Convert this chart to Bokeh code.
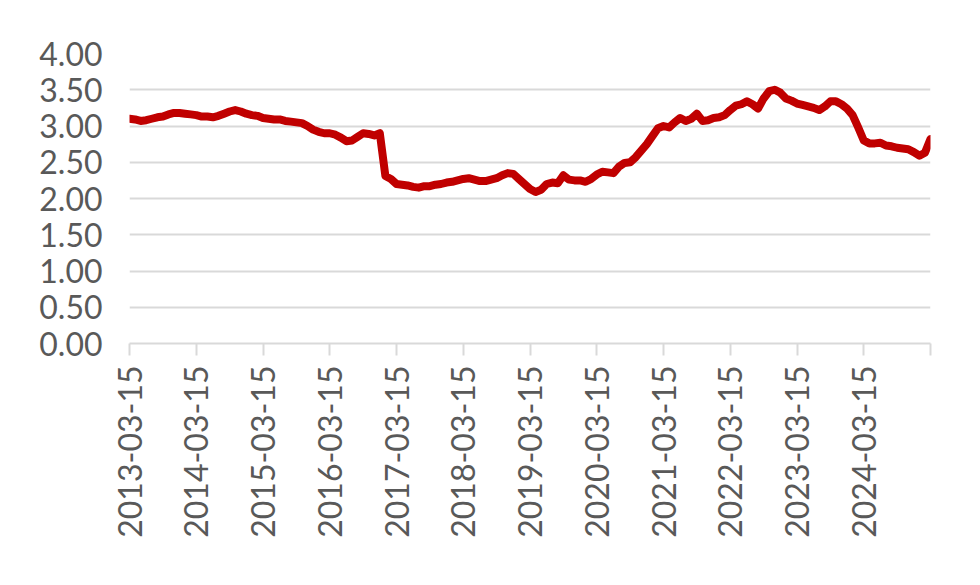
import math
from bokeh.plotting import figure
from bokeh.models import Range1d, FixedTicker, ColumnDataSource
from bokeh.embed import file_html
from bokeh.resources import INLINE

# Monthly observations, 2013-03 .. 2025-03
start_year, start_month = 2013, 3
values = [
    3.10, 3.09, 3.07, 3.08, 3.10, 3.12, 3.13, 3.16, 3.18, 3.18, 3.17, 3.16,  # 2013-03..2014-02
    3.15, 3.13, 3.13, 3.12, 3.14, 3.17, 3.20, 3.22, 3.20, 3.17, 3.15, 3.14,  # 2014-03..2015-02
    3.11, 3.10, 3.09, 3.09, 3.07, 3.06, 3.05, 3.04, 3.00, 2.95, 2.92, 2.90,  # 2015-03..2016-02
    2.90, 2.88, 2.84, 2.79, 2.80, 2.85, 2.90, 2.89, 2.87, 2.90, 2.31, 2.27,  # 2016-03..2017-02
    2.20, 2.19, 2.18, 2.16, 2.15, 2.17, 2.17, 2.19, 2.20, 2.22, 2.23, 2.25,  # 2017-03..2018-02
    2.27, 2.28, 2.26, 2.24, 2.24, 2.26, 2.28, 2.32, 2.35, 2.34, 2.27, 2.20,  # 2018-03..2019-02
    2.13, 2.09, 2.12, 2.20, 2.22, 2.21, 2.32, 2.26, 2.25, 2.25, 2.23, 2.27,  # 2019-03..2020-02
    2.33, 2.37, 2.36, 2.35, 2.44, 2.49, 2.50, 2.57, 2.66, 2.75, 2.86, 2.97,  # 2020-03..2021-02
    3.00, 2.98, 3.05, 3.11, 3.07, 3.10, 3.17, 3.07, 3.08, 3.11, 3.12, 3.15,  # 2021-03..2022-02
    3.22, 3.28, 3.30, 3.34, 3.30, 3.24, 3.38, 3.48, 3.50, 3.46, 3.38, 3.35,  # 2022-03..2023-02
    3.31, 3.29, 3.27, 3.25, 3.22, 3.27, 3.34, 3.34, 3.30, 3.24, 3.15, 2.98,  # 2023-03..2024-02
    2.80, 2.76, 2.76, 2.77, 2.73, 2.72, 2.70, 2.69, 2.68, 2.64, 2.59, 2.63,  # 2024-03..2025-02
    2.82,                                                                    # 2025-03
]
tick_labels = ["2013-03-15", "2014-03-15", "2015-03-15", "2016-03-15", "2017-03-15",
               "2018-03-15", "2019-03-15", "2020-03-15", "2021-03-15", "2022-03-15",
               "2023-03-15", "2024-03-15", ""]
y_ticks = [0.0, 0.5, 1.0, 1.5, 2.0, 2.5, 3.0, 3.5, 4.0]

months = list(range(len(values)))
dates = []
for m in months:
    y = start_year + (start_month - 1 + m) // 12
    mo = (start_month - 1 + m) % 12 + 1
    dates.append(f"{y}-{mo:02d}-15")

src = ColumnDataSource(dict(x=months, y=values, date=dates))

p = figure(frame_width=801, frame_height=290, output_backend="svg", toolbar_location=None,
           x_range=Range1d(0, len(values) - 1), y_range=Range1d(0, 4),
           min_border_left=129, min_border_top=53, min_border_right=30, min_border_bottom=200)
p.outline_line_color = None
p.background_fill_color = "white"

p.line("x", "y", source=src, line_color="#C00000", line_width=8, line_join="round", line_cap="round")

font = "Lato"
txt_color = "#595959"
grid_color = "#D9D9D9"

# y axis
p.yaxis.ticker = FixedTicker(ticks=y_ticks)
p.yaxis.major_label_overrides = {t: f"{t:.2f}" for t in y_ticks}
p.yaxis.axis_line_color = None
p.yaxis.major_tick_line_color = None
p.yaxis.minor_tick_line_color = None
p.yaxis.major_tick_out = 0
p.yaxis.major_tick_in = 0
p.yaxis.major_label_standoff = 27
p.yaxis.major_label_text_font = font
p.yaxis.major_label_text_font_size = "32px"
p.yaxis.major_label_text_color = txt_color

p.ygrid.ticker = FixedTicker(ticks=y_ticks[1:])
p.ygrid.grid_line_color = grid_color
p.ygrid.grid_line_width = 2
p.xgrid.grid_line_color = None

# x axis
xt = list(range(0, len(values), 12))
p.xaxis.ticker = FixedTicker(ticks=xt)
p.xaxis.major_label_overrides = {t: tick_labels[i] for i, t in enumerate(xt)}
p.xaxis.major_label_orientation = math.pi / 2
p.xaxis.axis_line_color = grid_color
p.xaxis.axis_line_width = 2
p.xaxis.major_tick_line_color = grid_color
p.xaxis.major_tick_line_width = 2
p.xaxis.major_tick_out = 12
p.xaxis.major_tick_in = 0
p.xaxis.minor_tick_line_color = None
p.xaxis.major_label_standoff = 10
p.xaxis.major_label_text_font = font
p.xaxis.major_label_text_font_size = "32px"
p.xaxis.major_label_text_color = txt_color

open("out.html", "w").write(file_html(p, INLINE))
